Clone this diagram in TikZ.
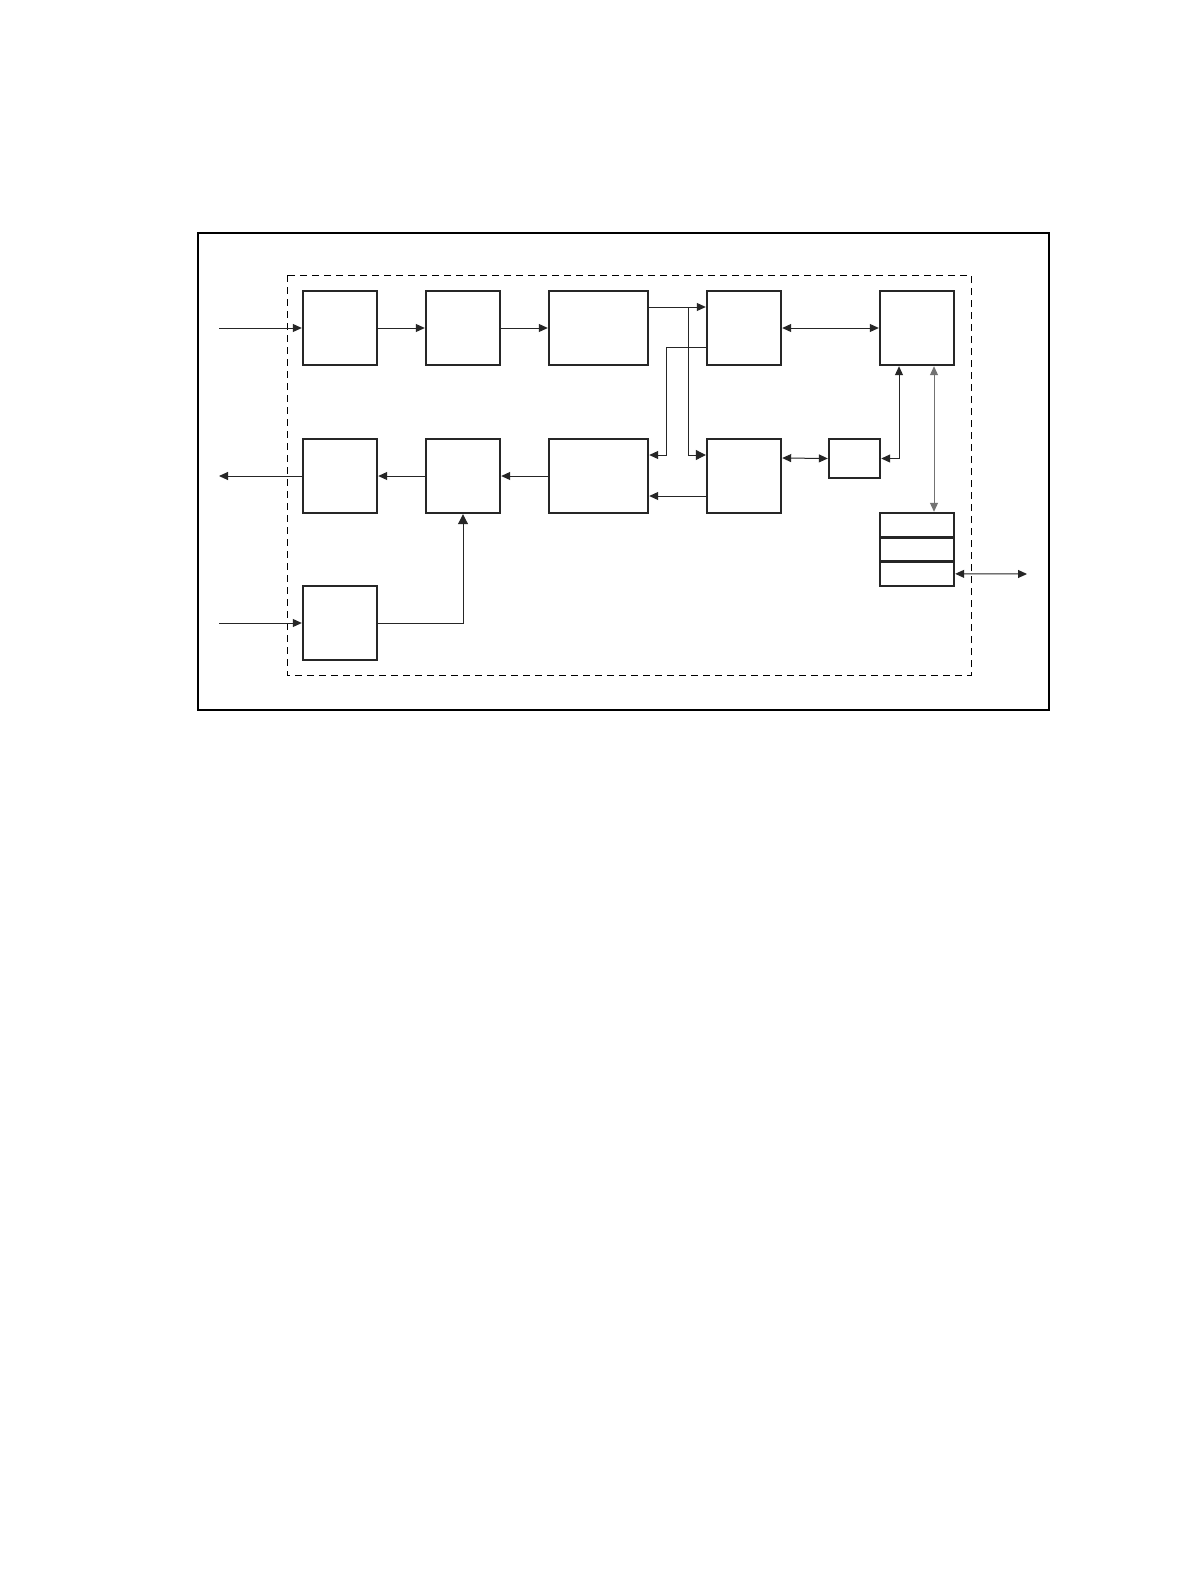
\documentclass[tikz,border=0pt]{standalone}
\usepackage{tikz}
\usetikzlibrary{arrows.meta}
\usetikzlibrary{positioning}
\usetikzlibrary{calc}
\tikzset{blk/.style={draw=black!85,line width=1.2pt,rectangle,inner sep=0pt,minimum width=37pt,minimum height=37pt}}
\tikzset{arr/.style={draw=black!85,line width=0.5pt,-{Triangle[length=4.5pt,width=4pt]}}}
\tikzset{bigarr/.style={draw=black!85,line width=0.5pt,-{Triangle[length=5pt,width=5pt]}}}
\tikzset{dbl/.style={draw=black!85,line width=0.5pt,{Triangle[length=4.5pt,width=4pt]}-{Triangle[length=4.5pt,width=4pt]}}}

\begin{document}
\begin{tikzpicture}[x=0.5pt,y=-0.5pt]
  \useasboundingbox[fill=white] (0,0) rectangle (1190,1584);
  \draw[line width=0.75pt] (198,233) rectangle (1049,710);
  \draw[line width=0.5pt,dash pattern=on 3.5pt off 2.5pt] (287,275) rectangle (971,675);
  % upper row
  \node[blk] (a1) at (340,328) {};
  \node[blk] (a2) at (463,328) {};
  \node[blk,minimum width=49.5pt] (a3) at (598.5,328) {};
  \node[blk] (a4) at (744,328) {};
  \node[blk] (a5) at (917,328) {};
  % lower row
  \node[blk] (b1) at (340,476) {};
  \node[blk] (b2) at (463,476) {};
  \node[blk,minimum width=49.5pt] (b3) at (598.5,476) {};
  \node[blk] (b4) at (744,476) {};
  \node[blk,minimum width=25.5pt,minimum height=19.5pt] (b5) at (854.5,458.5) {};
  \node[blk] (c1) at (340,623) {};
  % stack
  \foreach \i in {1,2,3}
    \node[blk,minimum height=12.17pt] (st\i) at (917,{513+24.33*(\i-0.5)}) {};
  \coordinate (in1) at (219,328);
  \coordinate (in2) at (219,623);
  \coordinate (out1) at (219,476);
  \coordinate (out2) at (1027,574);
  \coordinate (fork) at (688,307);
  \draw[arr] (in1) -- (a1.west);
  \draw[arr] (a1.east) -- (a2.west);
  \draw[arr] (a2.east) -- (a3.west);
  \draw[arr] ([yshift=10.5pt]a3.east) -- ([yshift=10.5pt]a4.west);
  \draw[bigarr] (fork) |- ([yshift=10.5pt]b4.west);
  \draw[arr] ([yshift=-9.5pt]a4.west) -- ++(-39,0) |- ([yshift=10.5pt]b3.east);
  \draw[arr] ([yshift=-10pt]b4.west) -- ([yshift=-10pt]b3.east);
  \draw[dbl] (a4.east) -- (a5.west);
  \draw[dbl] ([yshift=9pt]b4.east) -- (b5.west);
  \draw[dbl] (b5.east) -| ([xshift=-9pt]a5.south);
  \draw[dbl,draw=black!55] ([xshift=8.5pt]a5.south) -- ([xshift=8.5pt]st1.north);
  \draw[dbl] (st3.east) -- (out2);
  \draw[arr] (b3.west) -- (b2.east);
  \draw[arr] (b2.west) -- (b1.east);
  \draw[arr] (b1.west) -- (out1);
  \draw[arr] (in2) -- (c1.west);
  \draw[bigarr] (c1.east) -| (b2.south);
\end{tikzpicture}
\end{document}
